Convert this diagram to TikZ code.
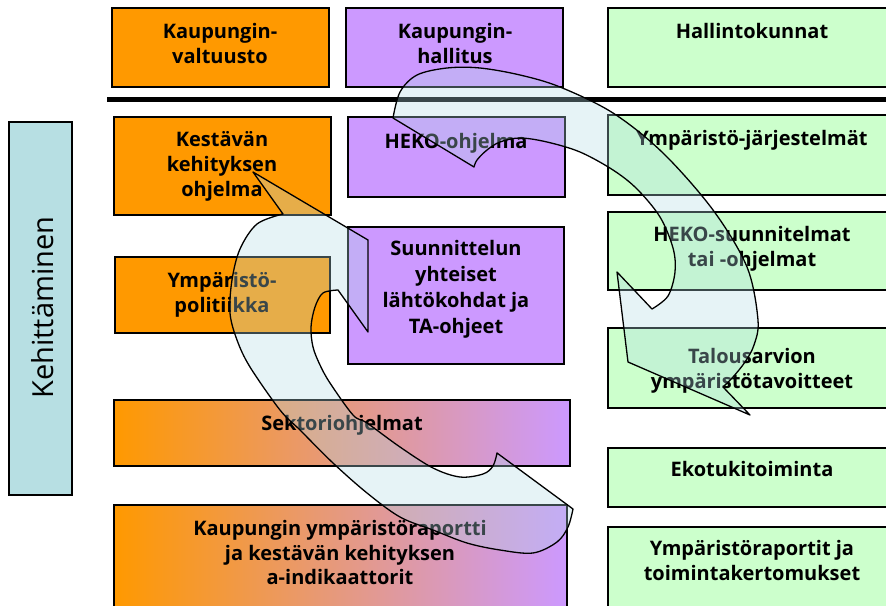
\documentclass[tikz,border=0pt]{standalone}
\usepackage{fontspec}
\setmainfont{Open Sans}
\definecolor{cor}{RGB}{255,153,0}
\definecolor{cpu}{RGB}{204,153,255}
\definecolor{cgr}{RGB}{204,255,204}
\definecolor{cte}{RGB}{183,223,227}
\definecolor{cpk}{RGB}{236,150,175}
\definecolor{car}{RGB}{178,218,228}
\tikzset{
  box/.style={draw=black, line width=1.6pt, inner sep=0pt},
  lbl/.style={font=\bfseries\fontsize{20}{25}\selectfont, align=center, anchor=north, inner sep=0pt},
  grad/.style={box, shading=axis, left color=cor, middle color=cpk, right color=cpu},
  bigarrow/.style={fill=car, fill opacity=0.32, draw=black, line width=1.3pt, line join=round}
}
\begin{document}
\begin{tikzpicture}[x=1pt,y=-1pt]
\useasboundingbox (0,0) rectangle (886,605);
\clip (0,0) rectangle (886,605);
% boxes
\node[box, fill=cor, minimum width=217pt, minimum height=79pt] (val) at (220.5,47.5) {};
\node[box, fill=cpu, minimum width=217pt, minimum height=79pt] (hal) at (454.5,47.5) {};
\node[box, fill=cgr, minimum width=288pt, minimum height=79pt] (hkk) at (752,47.5) {};
\node[box, fill=cor, minimum width=217pt, minimum height=98pt] (kko) at (222.5,166) {};
\node[box, fill=cpu, minimum width=217pt, minimum height=80pt] (hek) at (456.5,157) {};
\node[box, fill=cgr, minimum width=288pt, minimum height=80pt] (yjj) at (752,155) {};
\node[box, fill=cgr, minimum width=288pt, minimum height=78pt] (hks) at (752,251) {};
\node[box, fill=cgr, minimum width=288pt, minimum height=80pt] (tal) at (752,368) {};
\node[box, fill=cor, minimum width=215pt, minimum height=76pt] (ypo) at (222.5,295) {};
\node[box, fill=cpu, minimum width=216pt, minimum height=137pt] (suu) at (456,295.5) {};
\node[grad, minimum width=456pt, minimum height=66pt] (sek) at (342,433) {};
\node[grad, minimum width=453pt, minimum height=115pt] (kyr) at (340.5,562.5) {};
\node[box, fill=cgr, minimum width=288pt, minimum height=59pt] (eko) at (752,477.5) {};
\node[box, fill=cgr, minimum width=288pt, minimum height=93pt] (ytk) at (752,573.5) {};
\node[box, fill=cte, minimum width=63pt, minimum height=373pt] (keh) at (40.5,308.5) {};
% separator line
\coordinate (la) at (107,99.5);
\coordinate (lb) at (890,99.5);
\draw[line width=4.5pt] (la) -- (lb);
% labels
\node[lbl] (tval) at (220,23.5) {Kaupungin-\\valtuusto};
\node[lbl] (thal) at (455,23.5) {Kaupungin-\\hallitus};
\node[lbl] (thkk) at (752,23.5) {Hallintokunnat};
\node[lbl] (tkko) at (222,131.5) {Kestävän\\kehityksen\\ohjelma};
\node[lbl] (thek) at (456,133.5) {HEKO-ohjelma};
\node[lbl] (tyjj) at (752,130.5) {Ympäristö-järjestelmät};
\node[lbl] (thks) at (752,226.5) {HEKO-suunnitelmat\\tai -ohjelmat};
\node[lbl] (ttal) at (752,348.5) {Talousarvion\\ympäristötavoitteet};
\node[lbl] (typo) at (222,272.5) {Ympäristö-\\politiikka};
\node[lbl, font=\bfseries\fontsize{20}{26}\selectfont] (tsuu) at (456,240.5) {Suunnittelun\\yhteiset\\lähtökohdat ja\\TA-ohjeet};
\node[lbl] (tsek) at (342,415.5) {Sektoriohjelmat};
\node[lbl, font=\bfseries\fontsize{20}{24.5}\selectfont] (tkyr) at (340,520.5) {Kaupungin ympäristöraportti\\ja kestävän kehityksen\\a-indikaattorit};
\node[lbl] (teko) at (752,461.5) {Ekotukitoiminta};
\node[lbl] (tytk) at (752,540.5) {Ympäristöraportit ja\\toimintakertomukset};
\node[rotate=90, anchor=base, inner sep=0pt, font=\fontsize{29}{31}\selectfont] (tkeh) at (53,307.5) {Kehittäminen};
% curved arrow 1
\draw[bigarrow] plot[smooth, tension=0.55] coordinates {(393,118) (400,92) (417,75) (447,68) (480,68) (520,75) (560,87) (613,113) (663,153) (713,210) (747,267) (758,320) (754,345) (745,362) (733,377) (723,387)}
  -- (750,415) -- (628,362) -- (617,272) -- (652,309)
  -- plot[smooth, tension=0.55] coordinates {(652,309) (668,296) (675,272) (673,248) (660,217) (637,189) (613,170) (580,152) (547,142) (520,138) (500,142) (487,150) (477,160) (474,167)}
  -- cycle;
% curved arrow 2
\draw[bigarrow] (497,453) -- plot[smooth, tension=0.55] coordinates {(573,509) (568,527) (557,542) (533,553) (500,550) (467,543) (433,530) (400,517) (367,493) (333,463) (300,430) (280,410) (250,367) (237,340) (230,313) (232,280) (240,249) (257,224) (283,214)}
  -- (253,172) -- (368,240) -- (368,332) -- (338,290)
  -- plot[smooth, tension=0.55] coordinates {(338,290) (323,293) (315,307) (311,327) (313,347) (320,365) (330,383) (353,415) (367,423) (400,447) (433,468) (460,477) (483,474) (493,466) (497,453)}
  -- cycle;
\end{tikzpicture}
\end{document}
